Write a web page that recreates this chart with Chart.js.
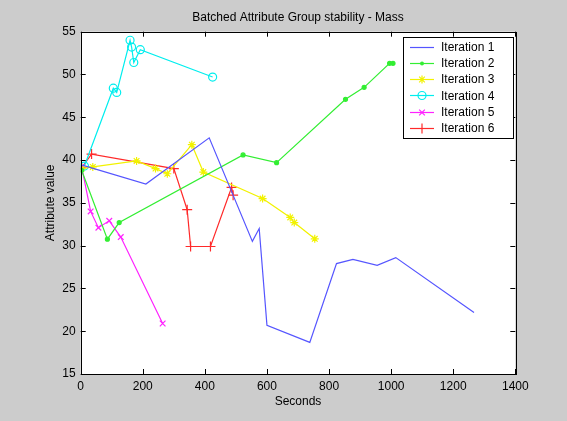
<!DOCTYPE html>
<html>
<head>
<meta charset="utf-8">
<script src="https://cdn.jsdelivr.net/npm/chart.js@4/dist/chart.umd.min.js"></script>
<style>
  body { margin: 0; background: #cccccc; }
  #wrap { width: 567px; height: 421px; position: relative; }
</style>
</head>
<body>
<div id="wrap"><canvas id="massChart"></canvas></div>
<script>
    // ===================================
    // DATA
    // ===================================
    const seriesNames = ['Iteration 1', 'Iteration 2', 'Iteration 3', 'Iteration 4', 'Iteration 5', 'Iteration 6'];

    const it1Seconds = [5, 210, 414, 553, 575, 600, 738, 824, 877, 955, 1015, 1267];
    const it1Values  = [39.4, 37.2, 42.6, 30.5, 32.0, 20.7, 18.7, 27.9, 28.4, 27.7, 28.6, 22.2];

    const it2Seconds = [3, 86, 124, 523, 631, 853, 913, 995, 1006];
    const it2Values  = [38.8, 30.75, 32.7, 40.6, 39.7, 47.1, 48.5, 51.3, 51.3];

    const it3Seconds = [3, 39, 180, 241, 279, 358, 395, 586, 675, 688, 754];
    const it3Values  = [39.0, 39.2, 39.9, 39.0, 38.4, 41.8, 38.6, 35.5, 33.3, 32.7, 30.8];

    const it4Seconds = [12, 105, 116, 159, 164, 171, 192, 425];
    const it4Values  = [39.3, 48.4, 47.9, 54.0, 53.2, 51.4, 52.9, 49.7];

    const it5Seconds = [3, 32, 57, 92, 129, 264];
    const it5Values  = [39.2, 34.0, 32.1, 32.9, 31.0, 20.9];

    const it6Seconds = [3, 35, 300, 343, 354, 418, 486, 491];
    const it6Values  = [39.1, 40.7, 39.0, 34.2, 29.9, 29.9, 36.8, 35.9];

    const xTicks = [0, 200, 400, 600, 800, 1000, 1200, 1400];
    const yTicks = [15, 20, 25, 30, 35, 40, 45, 50, 55];

    // marker / colour per series (matlab style b g y c m r)
    const lineColors = ['#5555ff', '#33ee33', '#f2f200', '#00eeee', '#ff22ff', '#ff2a2a'];
    const markerStyles = [false, 'dot', 'star', 'circle', 'crossRot', 'cross'];

    const toPoints = (xs, ys) => xs.map((x, i) => ({ x: x, y: ys[i] }));
    const allSeconds = [it1Seconds, it2Seconds, it3Seconds, it4Seconds, it5Seconds, it6Seconds];
    const allValues = [it1Values, it2Values, it3Values, it4Values, it5Values, it6Values];

    const datasets = seriesNames.map((name, i) => {
        const style = markerStyles[i];
        return {
            label: name,
            data: toPoints(allSeconds[i], allValues[i]),
            borderColor: lineColors[i],
            backgroundColor: style === 'dot' ? lineColors[i] : 'rgba(0,0,0,0)',
            borderWidth: 1.2,
            pointStyle: style === 'dot' ? 'circle' : (style || false),
            pointRadius: style === 'dot' ? 2 : (style === 'cross' ? 5 : (style ? 4 : 0)),
            pointBorderWidth: 1.2,
            tension: 0
        };
    });

    // --- small helper for legend markers ---
    function drawMarker(ctx, style, x, y, color) {
        ctx.save();
        ctx.strokeStyle = color;
        ctx.fillStyle = color;
        ctx.lineWidth = 1.2;
        ctx.beginPath();
        if (style === 'dot') {
            ctx.arc(x, y, 2, 0, Math.PI * 2);
            ctx.fill();
        } else if (style === 'circle') {
            ctx.arc(x, y, 4, 0, Math.PI * 2);
            ctx.stroke();
        } else if (style === 'cross') {
            ctx.moveTo(x - 5, y); ctx.lineTo(x + 5, y);
            ctx.moveTo(x, y - 5); ctx.lineTo(x, y + 5);
            ctx.stroke();
        } else if (style === 'crossRot') {
            const r = 4 * Math.SQRT1_2;
            ctx.moveTo(x - r, y - r); ctx.lineTo(x + r, y + r);
            ctx.moveTo(x + r, y - r); ctx.lineTo(x - r, y + r);
            ctx.stroke();
        } else if (style === 'star') {
            const r = 4, d = 4 * Math.SQRT1_2;
            ctx.moveTo(x - r, y); ctx.lineTo(x + r, y);
            ctx.moveTo(x, y - r); ctx.lineTo(x, y + r);
            ctx.moveTo(x - d, y - d); ctx.lineTo(x + d, y + d);
            ctx.moveTo(x + d, y - d); ctx.lineTo(x - d, y + d);
            ctx.stroke();
        }
        ctx.restore();
    }

    // ===================================
    // PLOT FRAME, INWARD TICKS AND LEGEND
    // ===================================
    const matlabAxes = {
        id: 'matlabAxes',
        beforeDraw(chart) {
            const { ctx, chartArea: a } = chart;
            ctx.save();
            ctx.fillStyle = '#ffffff';
            ctx.fillRect(a.left, a.top, a.right - a.left, a.bottom - a.top);
            ctx.restore();
        },
        afterDraw(chart) {
            const { ctx, chartArea: a } = chart;
            const xs = chart.scales.x, ys = chart.scales.y;
            const len = 5;
            ctx.save();
            ctx.strokeStyle = '#000000';
            ctx.lineWidth = 1;
            ctx.beginPath();
            xTicks.forEach(v => {
                const px = Math.round(xs.getPixelForValue(v)) + 0.5;
                ctx.moveTo(px, a.bottom); ctx.lineTo(px, a.bottom - len);
                ctx.moveTo(px, a.top); ctx.lineTo(px, a.top + len);
            });
            yTicks.forEach(v => {
                const py = Math.round(ys.getPixelForValue(v)) + 0.5;
                ctx.moveTo(a.left, py); ctx.lineTo(a.left + len, py);
                ctx.moveTo(a.right, py); ctx.lineTo(a.right - len, py);
            });
            ctx.stroke();
            ctx.strokeRect(Math.round(a.left) + 0.5, Math.round(a.top) + 0.5,
                Math.round(a.right - a.left), Math.round(a.bottom - a.top));

            // legend box
            const lx = 403.5, ly = 37.5, lw = 110, lh = 101;
            ctx.fillStyle = '#ffffff';
            ctx.fillRect(lx, ly, lw, lh);
            ctx.strokeRect(lx, ly, lw, lh);
            ctx.font = '12px "Liberation Sans", Arial, sans-serif';
            ctx.textBaseline = 'middle';
            seriesNames.forEach((name, i) => {
                const y = 46.5 + i * 16.3;
                ctx.strokeStyle = lineColors[i];
                ctx.lineWidth = 1.2;
                ctx.beginPath();
                ctx.moveTo(410, Math.round(y) + 0.5);
                ctx.lineTo(434, Math.round(y) + 0.5);
                ctx.stroke();
                if (markerStyles[i]) drawMarker(ctx, markerStyles[i], 422, Math.round(y) + 0.5, lineColors[i]);
                ctx.fillStyle = '#000000';
                ctx.fillText(name, 441, y + 1);
            });
            ctx.restore();
        }
    };

    Chart.defaults.font.family = '"Liberation Sans", Arial, sans-serif';
    Chart.defaults.font.size = 12;
    Chart.defaults.color = '#000000';

    const massConfig = {
        type: 'line',
        data: { datasets: datasets },
        options: {
            responsive: true,
            maintainAspectRatio: false,
            animation: false,
            layout: {
                padding: { left: 0, right: 51.7, top: 0, bottom: 0 }
            },
            plugins: {
                legend: { display: false },
                tooltip: { enabled: false },
                title: {
                    display: true,
                    fullSize: false,
                    text: 'Batched Attribute Group stability - Mass',
                    font: { size: 12, weight: 'normal' },
                    color: '#000000',
                    padding: { top: 10, bottom: 7.3 }
                }
            },
            scales: {
                x: {
                    type: 'linear',
                    min: 0,
                    max: 1400,
                    grid: { display: false, drawTicks: false },
                    border: { display: false },
                    ticks: { stepSize: 200, padding: 5, maxRotation: 0, callback: v => String(v) },
                    title: {
                        display: true,
                        text: 'Seconds',
                        padding: { top: 0, bottom: 11.8 }
                    },
                    afterFit(scale) { scale.height = 47; }
                },
                y: {
                    min: 15,
                    max: 55,
                    grid: { display: false, drawTicks: false },
                    border: { display: false },
                    ticks: { stepSize: 5, padding: 5, callback: v => String(v) },
                    title: {
                        display: true,
                        text: 'Attribute value',
                        padding: { top: 43, bottom: 0 }
                    },
                    afterFit(scale) { scale.width = 80.7; }
                }
            }
        },
        plugins: [matlabAxes]
    };

    // --- Render Chart ---
    const ctxMass = document.getElementById('massChart').getContext('2d');
    new Chart(ctxMass, massConfig);
</script>
</body>
</html>
